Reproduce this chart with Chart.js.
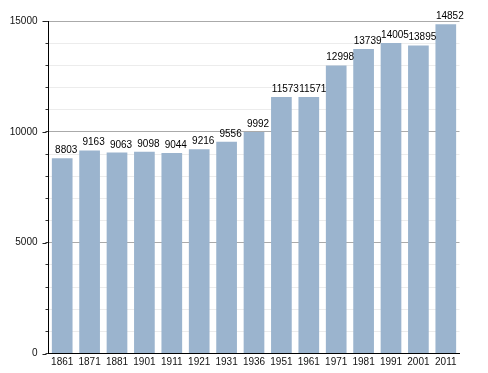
<!DOCTYPE html>
<html>
<head>
<meta charset="utf-8">
<script src="https://cdn.jsdelivr.net/npm/chart.js@4/dist/chart.umd.min.js"></script>
<style>
  html, body { margin: 0; padding: 0; background: #fff; }
  #wrap { width: 488px; height: 373px; }
</style>
</head>
<body>
<div id="wrap"><canvas id="popChart"></canvas></div>
<script>
const years = ["1861", "1871", "1881", "1901", "1911", "1921", "1931", "1936",
  "1951", "1961", "1971", "1981", "1991", "2001", "2011"];
const population = [8803, 9163, 9063, 9098, 9044, 9216, 9556, 9992,
  11573, 11571, 12998, 13739, 14005, 13895, 14852];
const yTickLabels = [0, 5000, 10000, 15000];

const FONT = "'Liberation Sans', Arial, sans-serif";

// value labels above bars + longer major tick marks
const barLabels = {
  id: "barLabels",
  afterDatasetsDraw(chart) {
    const ctx = chart.ctx;
    const meta = chart.getDatasetMeta(0);
    ctx.save();
    ctx.font = "10px " + FONT;
    ctx.fillStyle = "#000";
    ctx.textAlign = "center";
    ctx.textBaseline = "alphabetic";
    meta.data.forEach((bar, i) => {
      ctx.fillText(String(population[i]), bar.x + 4, bar.y - 5);
    });

    const y = chart.scales.y;
    ctx.strokeStyle = "#222";
    ctx.lineWidth = 1;
    yTickLabels.forEach((v) => {
      const py = Math.round(y.getPixelForValue(v)) + 0.5;
      ctx.beginPath();
      ctx.moveTo(y.right - 6, py);
      ctx.lineTo(y.right - 2, py);
      ctx.stroke();
    });
    ctx.restore();
  },
};

const ctx = document.getElementById("popChart").getContext("2d");
new Chart(ctx, {
  type: "bar",
  data: {
    labels: years,
    datasets: [
      {
        data: population,
        backgroundColor: "#9bb4ce",
        borderWidth: 0,
        barPercentage: 0.755,
        categoryPercentage: 1,
      },
    ],
  },
  options: {
    responsive: true,
    maintainAspectRatio: false,
    animation: false,
    layout: { padding: { top: 21, right: 28.5, bottom: 0, left: 0 } },
    plugins: {
      legend: { display: false },
      tooltip: { enabled: false },
    },
    scales: {
      x: {
        offset: true,
        grid: { display: false, drawTicks: false },
        border: { color: "#000", width: 1 },
        ticks: {
          color: "#111",
          font: { family: FONT, size: 10 },
          padding: 3,
          maxRotation: 0,
          autoSkip: false,
        },
        afterFit(scale) { scale.height = 19.5; },
      },
      y: {
        min: 0,
        max: 15000,
        grid: {
          color: (c) => {
            const v = c.tick.value;
            if (v === 0) return "rgba(0,0,0,0)";
            return yTickLabels.includes(v) ? "#aaaaaa" : "#ececec";
          },
          tickColor: "#333",
          tickLength: 3,
        },
        border: { color: "#000", width: 1 },
        ticks: {
          stepSize: 1000,
          padding: 8,
          color: "#111",
          font: { family: FONT, size: 10 },
          callback: (v) => (yTickLabels.includes(v) ? String(v) : ""),
        },
        afterFit(scale) { scale.width = 48.5; },
      },
    },
  },
  plugins: [barLabels],
});
</script>
</body>
</html>
